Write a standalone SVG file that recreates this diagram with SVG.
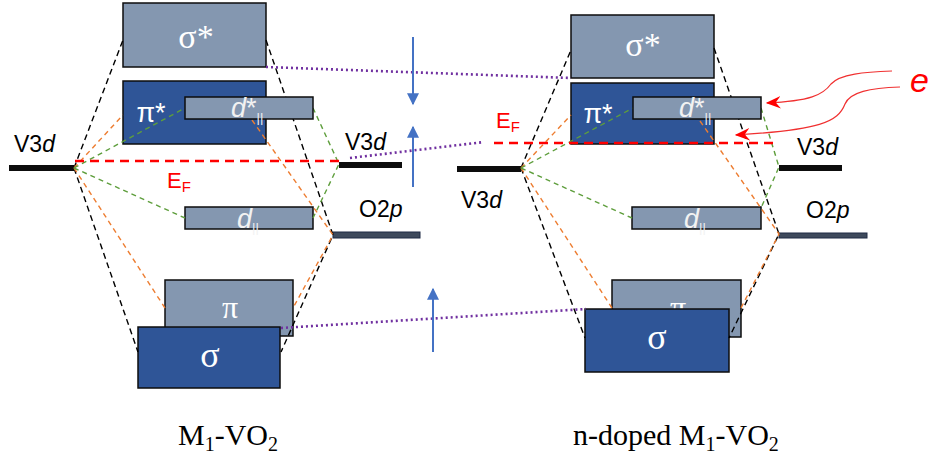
<svg xmlns="http://www.w3.org/2000/svg" width="928" height="457" viewBox="0 0 928 457">
<style>
.light{fill:#8497B0;stroke:#0D0D0D;stroke-width:1.5}
.dark{fill:#2F5597;stroke:#0D0D0D;stroke-width:1.5}
.bar{fill:#0D0D0D}
.obar{fill:#3E4A5C;stroke:#1F2A44;stroke-width:1}
.bt{fill:#FFFFFF;text-anchor:middle}
.serif{font-family:"Liberation Serif","Times New Roman",serif}
.sans{font-family:"Liberation Sans",Arial,sans-serif}
.lbl{font-family:"Liberation Sans",Arial,sans-serif;font-size:23px;fill:#000}
.ef{font-family:"Liberation Sans",Arial,sans-serif;font-size:22px;fill:#FF0000}
.cap{font-family:"Liberation Serif","Times New Roman",serif;font-size:30px;fill:#000}
.k{stroke:#000;stroke-width:1.4;stroke-dasharray:6 4;fill:none}
.o{stroke:#ED7D31;stroke-width:1.4;stroke-dasharray:5 4;fill:none}
.g{stroke:#5E9E3C;stroke-width:1.4;stroke-dasharray:5 4;fill:none}
.r{stroke:#FF0000;stroke-width:2.6;stroke-dasharray:9 6;fill:none}
.p{stroke:#7030A0;stroke-width:2.6;stroke-dasharray:2 3;fill:none}
.b{stroke:#4472C4;stroke-width:2;fill:none;marker-end:url(#ab)}
.e{stroke:#F03030;stroke-width:1.2;fill:none;marker-end:url(#ar)}
</style>
<defs>
<marker id="ab" viewBox="0 0 10 10" refX="9" refY="5" markerWidth="14" markerHeight="12" orient="auto" markerUnits="userSpaceOnUse"><path d="M0,0 L10,5 L0,10 z" fill="#4472C4"/></marker>
<marker id="ar" viewBox="0 0 12 10" refX="11" refY="5" markerWidth="15" markerHeight="13" orient="auto" markerUnits="userSpaceOnUse"><path d="M0,0 L12,5 L0,10 L4,5 z" fill="#FF0000"/></marker>
</defs>

<!-- Left diagram nodes (behind connectors) -->
<g id="L-sigma-star"><rect class="light" x="123" y="3" width="143" height="64"/><text class="bt serif" x="196" y="48" font-size="34">σ*</text></g>
<g id="L-pi-star"><rect class="dark" x="123" y="81" width="143" height="63"/><text class="bt sans" x="151" y="122" font-size="27">π*</text></g>
<g id="L-d-par"><rect class="light" x="185" y="207" width="128" height="22"/><text class="sans" x="237" y="228" font-size="27" fill="#F2F2F2"><tspan font-style="italic">d</tspan><tspan font-size="13" dy="4">||</tspan></text></g>
<g id="L-pi"><rect class="light" x="165" y="280" width="128" height="56"/><text class="bt serif" x="230" y="318" font-size="32">π</text></g>
<g id="L-sigma"><rect class="dark" x="138" y="327" width="142" height="61"/><text class="bt serif" x="210" y="367" font-size="36">σ</text></g>
<g id="L-V3d-1"><rect class="bar" x="9" y="165" width="65" height="6"/><text class="lbl" x="14" y="152">V3<tspan font-style="italic">d</tspan></text></g>
<g id="L-V3d-2"><rect class="bar" x="339" y="162" width="63" height="6"/><text class="lbl" x="345" y="150">V3<tspan font-style="italic">d</tspan></text></g>
<g id="L-O2p"><rect class="obar" x="333" y="232" width="87" height="6"/><text class="lbl" x="359" y="217">O2<tspan font-style="italic">p</tspan></text></g>
<g id="L-EF"><text class="ef" x="167" y="188">E<tspan font-size="15" dy="4">F</tspan></text></g>

<!-- Right diagram nodes (behind connectors) -->
<g id="R-sigma-star"><rect class="light" x="571" y="15" width="143" height="63"/><text class="bt serif" x="643" y="56" font-size="34">σ*</text></g>
<g id="R-pi-star"><rect class="dark" x="571" y="83" width="143" height="61"/><text class="bt sans" x="598" y="123" font-size="27">π*</text></g>
<g id="R-d-par"><rect class="light" x="632" y="207" width="129" height="22"/><text class="sans" x="684" y="228" font-size="27" fill="#F2F2F2"><tspan font-style="italic">d</tspan><tspan font-size="13" dy="4">||</tspan></text></g>
<g id="R-pi"><rect class="light" x="612" y="280" width="129" height="57"/><text class="bt serif" x="678" y="318" font-size="32">π</text></g>
<g id="R-sigma"><rect class="dark" x="585" y="309" width="144" height="63"/><text class="bt serif" x="657" y="349" font-size="36">σ</text></g>
<g id="R-V3d-1"><rect class="bar" x="457" y="166" width="64" height="6"/><text class="lbl" x="461" y="208">V3<tspan font-style="italic">d</tspan></text></g>
<g id="R-V3d-2"><rect class="bar" x="779" y="165" width="63" height="6"/><text class="lbl" x="797" y="155">V3<tspan font-style="italic">d</tspan></text></g>
<g id="R-O2p"><rect class="obar" x="779" y="233" width="88" height="5"/><text class="lbl" x="806" y="218">O2<tspan font-style="italic">p</tspan></text></g>
<g id="R-EF"><text class="ef" x="496" y="128">E<tspan font-size="15" dy="4">F</tspan></text></g>
<g id="R-e"><text x="910" y="92" font-family="Liberation Sans,Arial,sans-serif" font-size="34" font-style="italic" fill="#FF0000">e</text></g>

<g id="connectors">
<!-- left -->
<path class="k" d="M74,168 L123,40 M74,168 L138,352 M266,40 L333,235 L281,352"/>
<path class="o" d="M74,168 L123,115 M74,168 L165,308 M252,120 L333,235 L293,308"/>
<path class="g" d="M74,168 L185,108 M74,168 L185,218 M313,108 L339,164 L313,218"/>
<path class="r" d="M75,161 L340,161"/>
<!-- right -->
<path class="k" d="M521,168 L571,50 M521,168 L585,338 M714,48 L779,234 L729,338"/>
<path class="o" d="M521,168 L571,115 M521,168 L612,308 M700,121 L779,234 L741,308"/>
<path class="g" d="M521,168 L633,108 M521,168 L632,218 M761,108 L779,167 L761,208"/>
<path class="r" d="M494,143 L779,143"/>
<!-- purple -->
<path class="p" d="M266,67 L571,78"/>
<path class="p" d="M350,158 L484,142"/>
<path class="p" d="M281,328 L586,309"/>
<!-- blue arrows -->
<path class="b" d="M413,37 L413,104"/>
<path class="b" d="M413,187 L413,127"/>
<path class="b" d="M433,352 L433,289"/>
<!-- electron arrows -->
<path class="e" d="M892,71 C865,72 840,74 831,84 C823,95 810,101 767,103"/>
<path class="e" d="M900,87 C870,88 850,92 845,104 C838,122 820,130 736,135"/>
</g>

<!-- nodes above connectors -->
<g id="L-d-star"><rect class="light" x="185" y="97" width="128" height="22"/><text class="sans" x="231" y="117" font-size="27" fill="#F2F2F2"><tspan font-style="italic">d</tspan>*<tspan font-size="13" dy="5">||</tspan></text></g>
<g id="R-d-star"><rect class="light" x="633" y="97" width="128" height="22"/><text class="sans" x="679" y="117" font-size="27" fill="#F2F2F2"><tspan font-style="italic">d</tspan>*<tspan font-size="13" dy="5">||</tspan></text></g>

<g id="captions">
<text class="cap" x="178" y="445">M<tspan font-size="20" dy="6">1</tspan><tspan dy="-6">-VO</tspan><tspan font-size="20" dy="6">2</tspan></text>
<text class="cap" x="573" y="445">n-doped M<tspan font-size="20" dy="6">1</tspan><tspan dy="-6">-VO</tspan><tspan font-size="20" dy="6">2</tspan></text>
</g>
</svg>
